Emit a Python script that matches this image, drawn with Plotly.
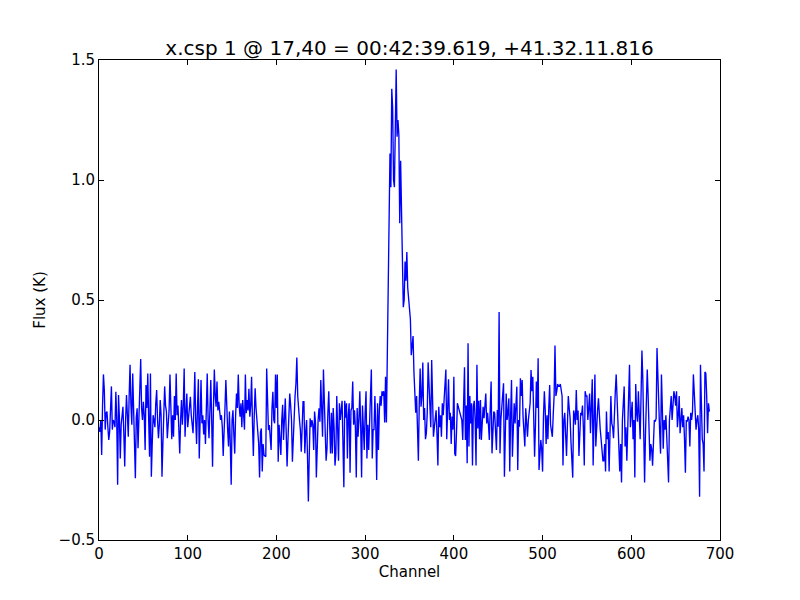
import plotly.graph_objects as go

# Flux (K) per channel
flux_a = [
    -0.03, -0.05, 0.0, -0.146, 0.06, 0.19, 0.125, -0.04, 0.03, 0.035,
    -0.03, -0.083, -0.05, 0.02, 0.14, -0.04, 0.0, -0.007, -0.03, 0.118,
    0.0, -0.27, 0.104, 0.01, -0.16, -0.02, 0.04, 0.055, -0.06, -0.194,
    0.0, 0.104, 0.02, -0.07, 0.1, 0.23, 0.063, -0.02, 0.194, 0.05,
    -0.1, -0.243, 0.01, 0.049, -0.118, 0.0, 0.1, 0.254, 0.05, 0.0,
    0.076, 0.02, -0.125, 0.146, 0.05, 0.194, 0.0, -0.153, 0.194, -0.236,
    -0.1, 0.02, 0.0, -0.03, 0.07, 0.125, 0.0, -0.076, -0.02, 0.083,
    0.02, -0.236, -0.1, 0.05, 0.14, 0.06, 0.035, -0.076, -0.02, 0.04,
    0.19, 0.05, -0.08, 0.02, -0.07, 0.1, 0.0, 0.194, 0.02, 0.06,
    -0.05, -0.14, 0.0, 0.083, -0.02, 0.06, 0.215, -0.07, 0.03, 0.11,
    -0.03, 0.025, 0.07, 0.097, 0.02, -0.02, -0.055, 0.05, 0.2, 0.0,
    -0.1, 0.05, 0.17, -0.16, 0.03, 0.167, -0.014, 0.02, -0.06, 0.0,
    -0.1, 0.05, 0.194, 0.0, -0.076, 0.04, 0.167, 0.0, -0.195, 0.05,
    0.21, 0.1, 0.055, 0.16, 0.04, 0.076, 0.03, 0.0, 0.02, -0.03,
    -0.15, 0.0, 0.05, 0.167, 0.03, -0.04, -0.11, 0.035, -0.1, -0.27,
    0.0, 0.04, -0.06, -0.14, 0.02, 0.11, 0.05, 0.19, 0.06, 0.014,
    0.07, -0.03, 0.083, 0.03, -0.04, 0.19, 0.028, 0.083, 0.04, 0.13,
    0.014, 0.06, 0.18, -0.014, -0.15, 0.02, 0.132, 0.05, 0.007, -0.055,
    -0.1, -0.24, -0.05, -0.035, -0.215, -0.1, -0.146, -0.15, -0.153, 0.215,
    0.03, -0.042, -0.021, -0.07, -0.125, 0.05, 0.118, 0.0, -0.014, 0.19,
    0.05, 0.19, -0.174, -0.02, -0.09, -0.146, 0.0, 0.063, -0.083, 0.0,
    0.09, -0.05, -0.194, -0.083, 0.0, 0.11, 0.063, 0.0, -0.174, -0.05,
    0.055, 0.1, 0.153, 0.26, 0.1, 0.028, 0.0, -0.042, -0.132, -0.03,
]
flux_b = [
    0.076, 0.076, -0.139, -0.05, 0.0, -0.15, -0.34, -0.15, 0.007, -0.03,
    0.0, -0.02, -0.125, 0.035, -0.007, -0.24, -0.08, 0.0, 0.049, -0.007,
    0.167, 0.0, -0.07, 0.21, 0.02, -0.05, -0.17, -0.12, 0.03, 0.12,
    -0.02, -0.14, 0.03, -0.14, 0.05, -0.03, -0.19, -0.14, 0.1, -0.05,
    -0.17, 0.07, 0.0, 0.04, 0.08, -0.1, -0.28, 0.08, 0.01, 0.07,
    -0.16, 0.02, 0.07, -0.22, 0.04, 0.05, 0.16, -0.02, 0.04, -0.03,
    -0.24, 0.05, -0.07, 0.0, 0.12, -0.03, -0.24, 0.06, -0.05, -0.125,
    0.03, 0.12, -0.16, -0.02, -0.125, 0.0, 0.07, 0.21, -0.16, -0.04,
    -0.04, 0.1, -0.03, -0.25, 0.07, -0.125, 0.04, 0.1, 0.06, 0.12,
    0.1, 0.12, -0.01, 0.18, -0.01, 0.26, 0.6, 0.97, 1.11, 0.97,
    1.38, 1.3, 1.0, 0.97, 1.2, 1.46, 1.18, 1.25, 1.19, 0.82,
    1.08, 0.8, 0.55, 0.47, 0.5, 0.66, 0.58, 0.7, 0.55, 0.5,
    0.46, 0.42, 0.27, 0.3, 0.35, 0.2, 0.125, 0.03, 0.1, -0.01,
    -0.17, 0.07, 0.215, 0.055, 0.1, 0.24, 0.0, 0.05, -0.08, -0.055,
    0.03, 0.24, 0.15, 0.05, -0.03, 0.25, 0.02, -0.07, -0.03, 0.0,
    0.04, -0.06, -0.19, 0.055, -0.03, 0.02, -0.07, 0.07, 0.02, 0.083,
    0.15, 0.21, -0.08, 0.05, 0.17, 0.0, 0.03, -0.1, 0.014, -0.04,
    0.18, -0.14, -0.15, -0.05, 0.07, 0.055, 0.04, 0.028, 0.014, 0.0,
    -0.083, 0.05, 0.22, -0.083, 0.06, -0.18, 0.32, -0.11, 0.1, -0.014,
    0.07, -0.19, 0.055, 0.08, 0.0, -0.19, 0.23, -0.035, 0.08, -0.08,
    0.083, -0.083, 0.0, 0.055, 0.007, 0.05, 0.11, -0.014, 0.03, -0.021,
    -0.083, 0.05, 0.16, -0.139, 0.0, 0.035, 0.028, -0.05, -0.125, 0.042,
    -0.028, 0.45, -0.139, 0.0, 0.055, 0.1, 0.153, -0.236, 0.0, 0.11,
]
flux_c = [
    0.0, 0.03, 0.09, -0.215, 0.02, 0.167, -0.153, 0.0, 0.07, -0.014,
    0.05, 0.139, -0.208, 0.0, -0.028, 0.174, 0.1, 0.167, 0.014, -0.05,
    -0.11, 0.049, 0.0, -0.07, 0.0, 0.03, 0.07, 0.208, 0.12, 0.18,
    -0.05, -0.153, -0.021, 0.16, 0.05, 0.257, -0.208, -0.132, -0.083, -0.12,
    -0.215, 0.014, 0.12, 0.042, -0.1, 0.02, -0.08, 0.05, 0.146, -0.02,
    -0.06, -0.07, 0.02, 0.1, 0.31, 0.1, 0.12, 0.15, 0.14, 0.14,
    0.15, 0.12, 0.1, -0.19, 0.0, 0.03, -0.09, -0.15, -0.02, 0.1,
    0.05, 0.01, -0.09, -0.15, -0.24, 0.04, 0.02, -0.02, 0.125, 0.0,
    0.04, -0.15, 0.0, 0.03, 0.02, 0.06, -0.03, -0.19, 0.12, 0.1,
    0.1, 0.0, 0.05, 0.11, -0.055, 0.04, 0.17, -0.19, 0.05, 0.19,
    -0.11, 0.0, 0.04, 0.09, 0.0, -0.04, -0.08, -0.12, -0.17, -0.17,
    -0.1, -0.215, 0.035, -0.08, -0.05, -0.215, 0.02, 0.1, -0.014, -0.03,
    -0.076, 0.06, 0.12, 0.19, 0.08, 0.03, -0.08, -0.215, -0.1, -0.26,
    0.0, 0.05, 0.14, -0.11, -0.03, -0.17, 0.0, 0.08, 0.23, -0.03,
    0.02, 0.076, -0.08, 0.0, -0.24, 0.15, 0.03, -0.007, 0.12, 0.0,
    -0.08, 0.1, 0.29, 0.17, 0.0, -0.26, -0.06, 0.05, 0.21, 0.1,
    -0.05, -0.17, -0.1, -0.12, -0.19, -0.1, 0.0, -0.007, 0.007, 0.3,
    0.15, 0.07, -0.05, -0.14, 0.19, 0.05, -0.12, 0.0, -0.04, 0.02,
    -0.08, -0.15, -0.26, 0.0, 0.04, 0.1, 0.0, 0.05, 0.12, 0.1,
    0.06, 0.12, -0.03, 0.02, 0.1, -0.055, 0.0, 0.05, -0.03, 0.02,
    -0.08, -0.22, 0.0, -0.007, 0.014, 0.0, -0.11, 0.03, 0.0, 0.035,
    0.19, 0.12, 0.083, -0.04, 0.0, 0.02, -0.04, -0.32, 0.23, 0.0,
    -0.08, -0.1, -0.215, 0.2, 0.195, 0.1, -0.055, 0.07, 0.035,
]
flux = flux_a + flux_b + flux_c
channels = list(range(len(flux)))

x_ticks = [0, 100, 200, 300, 400, 500, 600, 700]
y_ticks = [-0.5, 0.0, 0.5, 1.0, 1.5]

title_text = "x.csp 1 @ 17,40 = 00:42:39.619, +41.32.11.816"

fig = go.Figure()
fig.add_trace(go.Scatter(
    x=channels, y=flux, mode="lines",
    line=dict(color="#0000ff", width=1.35),
    showlegend=False, hoverinfo="skip",
))

font_family = "DejaVu Sans"
axis_common = dict(
    showgrid=False, zeroline=False,
    showline=True, linecolor="black", linewidth=1, mirror="allticks",
    ticks="inside", ticklen=5, tickwidth=1, tickcolor="black",
    tickfont=dict(family=font_family, size=15, color="black"),
)

fig.update_layout(
    width=800, height=600,
    paper_bgcolor="white", plot_bgcolor="white",
    margin=dict(l=91, r=88, t=52, b=68),
    title=dict(text=title_text, x=0.5, xref="paper", xanchor="center",
               y=1, yref="paper", yanchor="bottom", pad=dict(b=5),
               font=dict(family=font_family, size=20, color="black")),
    xaxis=dict(range=[0, 700], tickvals=x_ticks,
               title=dict(text="Channel", standoff=2,
                          font=dict(family=font_family, size=15, color="black")),
               **axis_common),
    yaxis=dict(range=[-0.5, 1.5], tickvals=y_ticks, tickformat=".1f",
               title=dict(text="Flux (K)", standoff=9,
                          font=dict(family=font_family, size=15, color="black")),
               **axis_common),
)

fig.write_html("out.html")
